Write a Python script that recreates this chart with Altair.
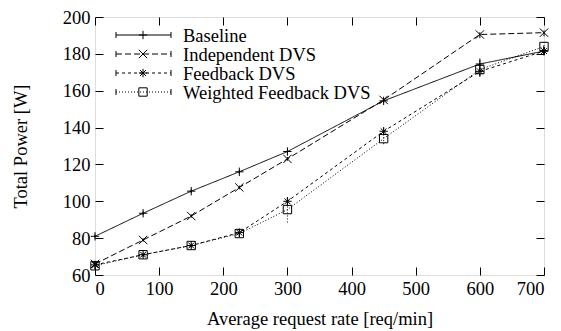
import altair as alt
import pandas as pd

x_vals = [0, 75, 150, 225, 300, 450, 600, 700]
series_names = ["Baseline", "Independent DVS", "Feedback DVS", "Weighted Feedback DVS"]
baseline = [81, 93.5, 105.5, 116, 127, 154.5, 174.5, 181.5]
independent = [66, 79, 92, 107.5, 123, 155, 190.5, 191.5]
feedback = [65.5, 71, 76, 83, 100, 138, 170.5, 181.5]
weighted = [65, 71, 76, 82.5, 95.5, 134, 171.5, 184]
baseline_err = [1, 1, 1, 1, 1, 1, 3, 2]
independent_err = [1, 1, 1, 1, 1, 1, 2, 2]
feedback_err = [2, 1, 1, 2, 2, 2, 3, 2]
weighted_err = [2, 1, 1, 2, 7, 3, 3, 3]
x_ticks = [0, 100, 200, 300, 400, 500, 600, 700]
y_ticks = [60, 80, 100, 120, 140, 160, 180, 200]

FONT = "Liberation Serif"
FS = 18.5
dashes = [[1, 0], [6, 3], [3, 3], [1, 2]]
shapes = [
    "M-1,0L1,0M0,-1L0,1",
    "M-1,-1L1,1M-1,1L1,-1",
    "M-1,0L1,0M0,-1L0,1M-0.7,-0.7L0.7,0.7M-0.7,0.7L0.7,-0.7",
    "M-1,-1L1,-1L1,1L-1,1Z",
]

rows = []
for name, vals, errs in zip(series_names, [baseline, independent, feedback, weighted],
                            [baseline_err, independent_err, feedback_err, weighted_err]):
    for x, y, e in zip(x_vals, vals, errs):
        rows.append({"series": name, "x": x, "y": y, "lo": y - e, "hi": y + e})
df = pd.DataFrame(rows)

W, H = 449, 258
xscale = alt.Scale(domain=[0, 700], nice=False, zero=False)
yscale = alt.Scale(domain=[60, 200], nice=False, zero=False)
dash_scale = alt.Scale(domain=series_names, range=dashes)
shape_scale = alt.Scale(domain=series_names, range=shapes)

x_axis = alt.Axis(values=x_ticks, tickSize=8, offset=-8, domain=False, grid=False,
                  labelPadding=4, labelFontSize=FS, labelFont=FONT, labelColor="black",
                  tickColor="black", title="Average request rate [req/min]",
                  titleFont=FONT, titleFontSize=FS, titleFontWeight="normal",
                  titleColor="black", titlePadding=12)
y_axis = alt.Axis(values=y_ticks, tickSize=8, offset=-8, domain=False, grid=False,
                  labelPadding=5, labelFontSize=FS, labelFont=FONT, labelColor="black",
                  tickColor="black", title="Total Power [W]",
                  titleFont=FONT, titleFontSize=FS, titleFontWeight="normal",
                  titleColor="black", titlePadding=32)
x_axis_top = alt.Axis(values=x_ticks, orient="top", tickSize=8, offset=-8, domain=False,
                      grid=False, labels=False, tickColor="black", title=None)
y_axis_right = alt.Axis(values=y_ticks, orient="right", tickSize=8, offset=-8, domain=False,
                        grid=False, labels=False, tickColor="black", title=None)

base = alt.Chart(df)

lines = base.mark_line(color="black", strokeWidth=1).encode(
    x=alt.X("x:Q", scale=xscale, axis=x_axis),
    y=alt.Y("y:Q", scale=yscale, axis=y_axis),
    strokeDash=alt.StrokeDash("series:N", scale=dash_scale, legend=None),
    detail="series:N",
)

errs = base.mark_rule(color="black", strokeWidth=1).encode(
    x=alt.X("x:Q", scale=xscale, axis=x_axis_top),
    y=alt.Y("lo:Q", scale=yscale, axis=y_axis_right),
    y2="hi:Q",
    strokeDash=alt.StrokeDash("series:N", scale=dash_scale, legend=None),
)

points = base.mark_point(filled=False, color="black", strokeWidth=1, size=70, opacity=1).encode(
    x=alt.X("x:Q", scale=xscale, axis=None),
    y=alt.Y("y:Q", scale=yscale, axis=None),
    shape=alt.Shape("series:N", scale=shape_scale, legend=None),
)

legend_layers = []
one = alt.Data(values=[{"a": 1}])
for i, name in enumerate(series_names):
    py = 18 + i * 19
    legend_layers.append(alt.Chart(one).mark_rule(color="black", strokeWidth=1).encode(
        x=alt.value(21), x2=alt.value(76), y=alt.value(py), strokeDash=alt.value(dashes[i])))
    legend_layers.append(alt.Chart(one).mark_rule(color="black", strokeWidth=1).encode(
        x=alt.value(21), y=alt.value(py - 3), y2=alt.value(py + 3)))
    legend_layers.append(alt.Chart(one).mark_rule(color="black", strokeWidth=1).encode(
        x=alt.value(76), y=alt.value(py - 3), y2=alt.value(py + 3)))
    legend_layers.append(alt.Chart(one).mark_point(filled=False, color="black", strokeWidth=1,
                                                   size=70, opacity=1).encode(
        x=alt.value(48), y=alt.value(py), shape=alt.value(shapes[i])))
    legend_layers.append(alt.Chart(one).mark_text(font=FONT, fontSize=FS, align="left",
                                                  baseline="middle", color="black").encode(
        x=alt.value(88), y=alt.value(py + 1), text=alt.value(name)))

chart = alt.layer(lines, errs, points, *legend_layers).resolve_axis(
    x="independent", y="independent"
).properties(
    width=W, height=H,
    autosize=alt.AutoSizeParams(type="none"),
    padding={"left": 95, "top": 17, "right": 17, "bottom": 56},
).configure_view(stroke="black", strokeWidth=1.8).configure(background="white")

chart.save("out.html", embed_options={"renderer": "svg", "actions": False})
